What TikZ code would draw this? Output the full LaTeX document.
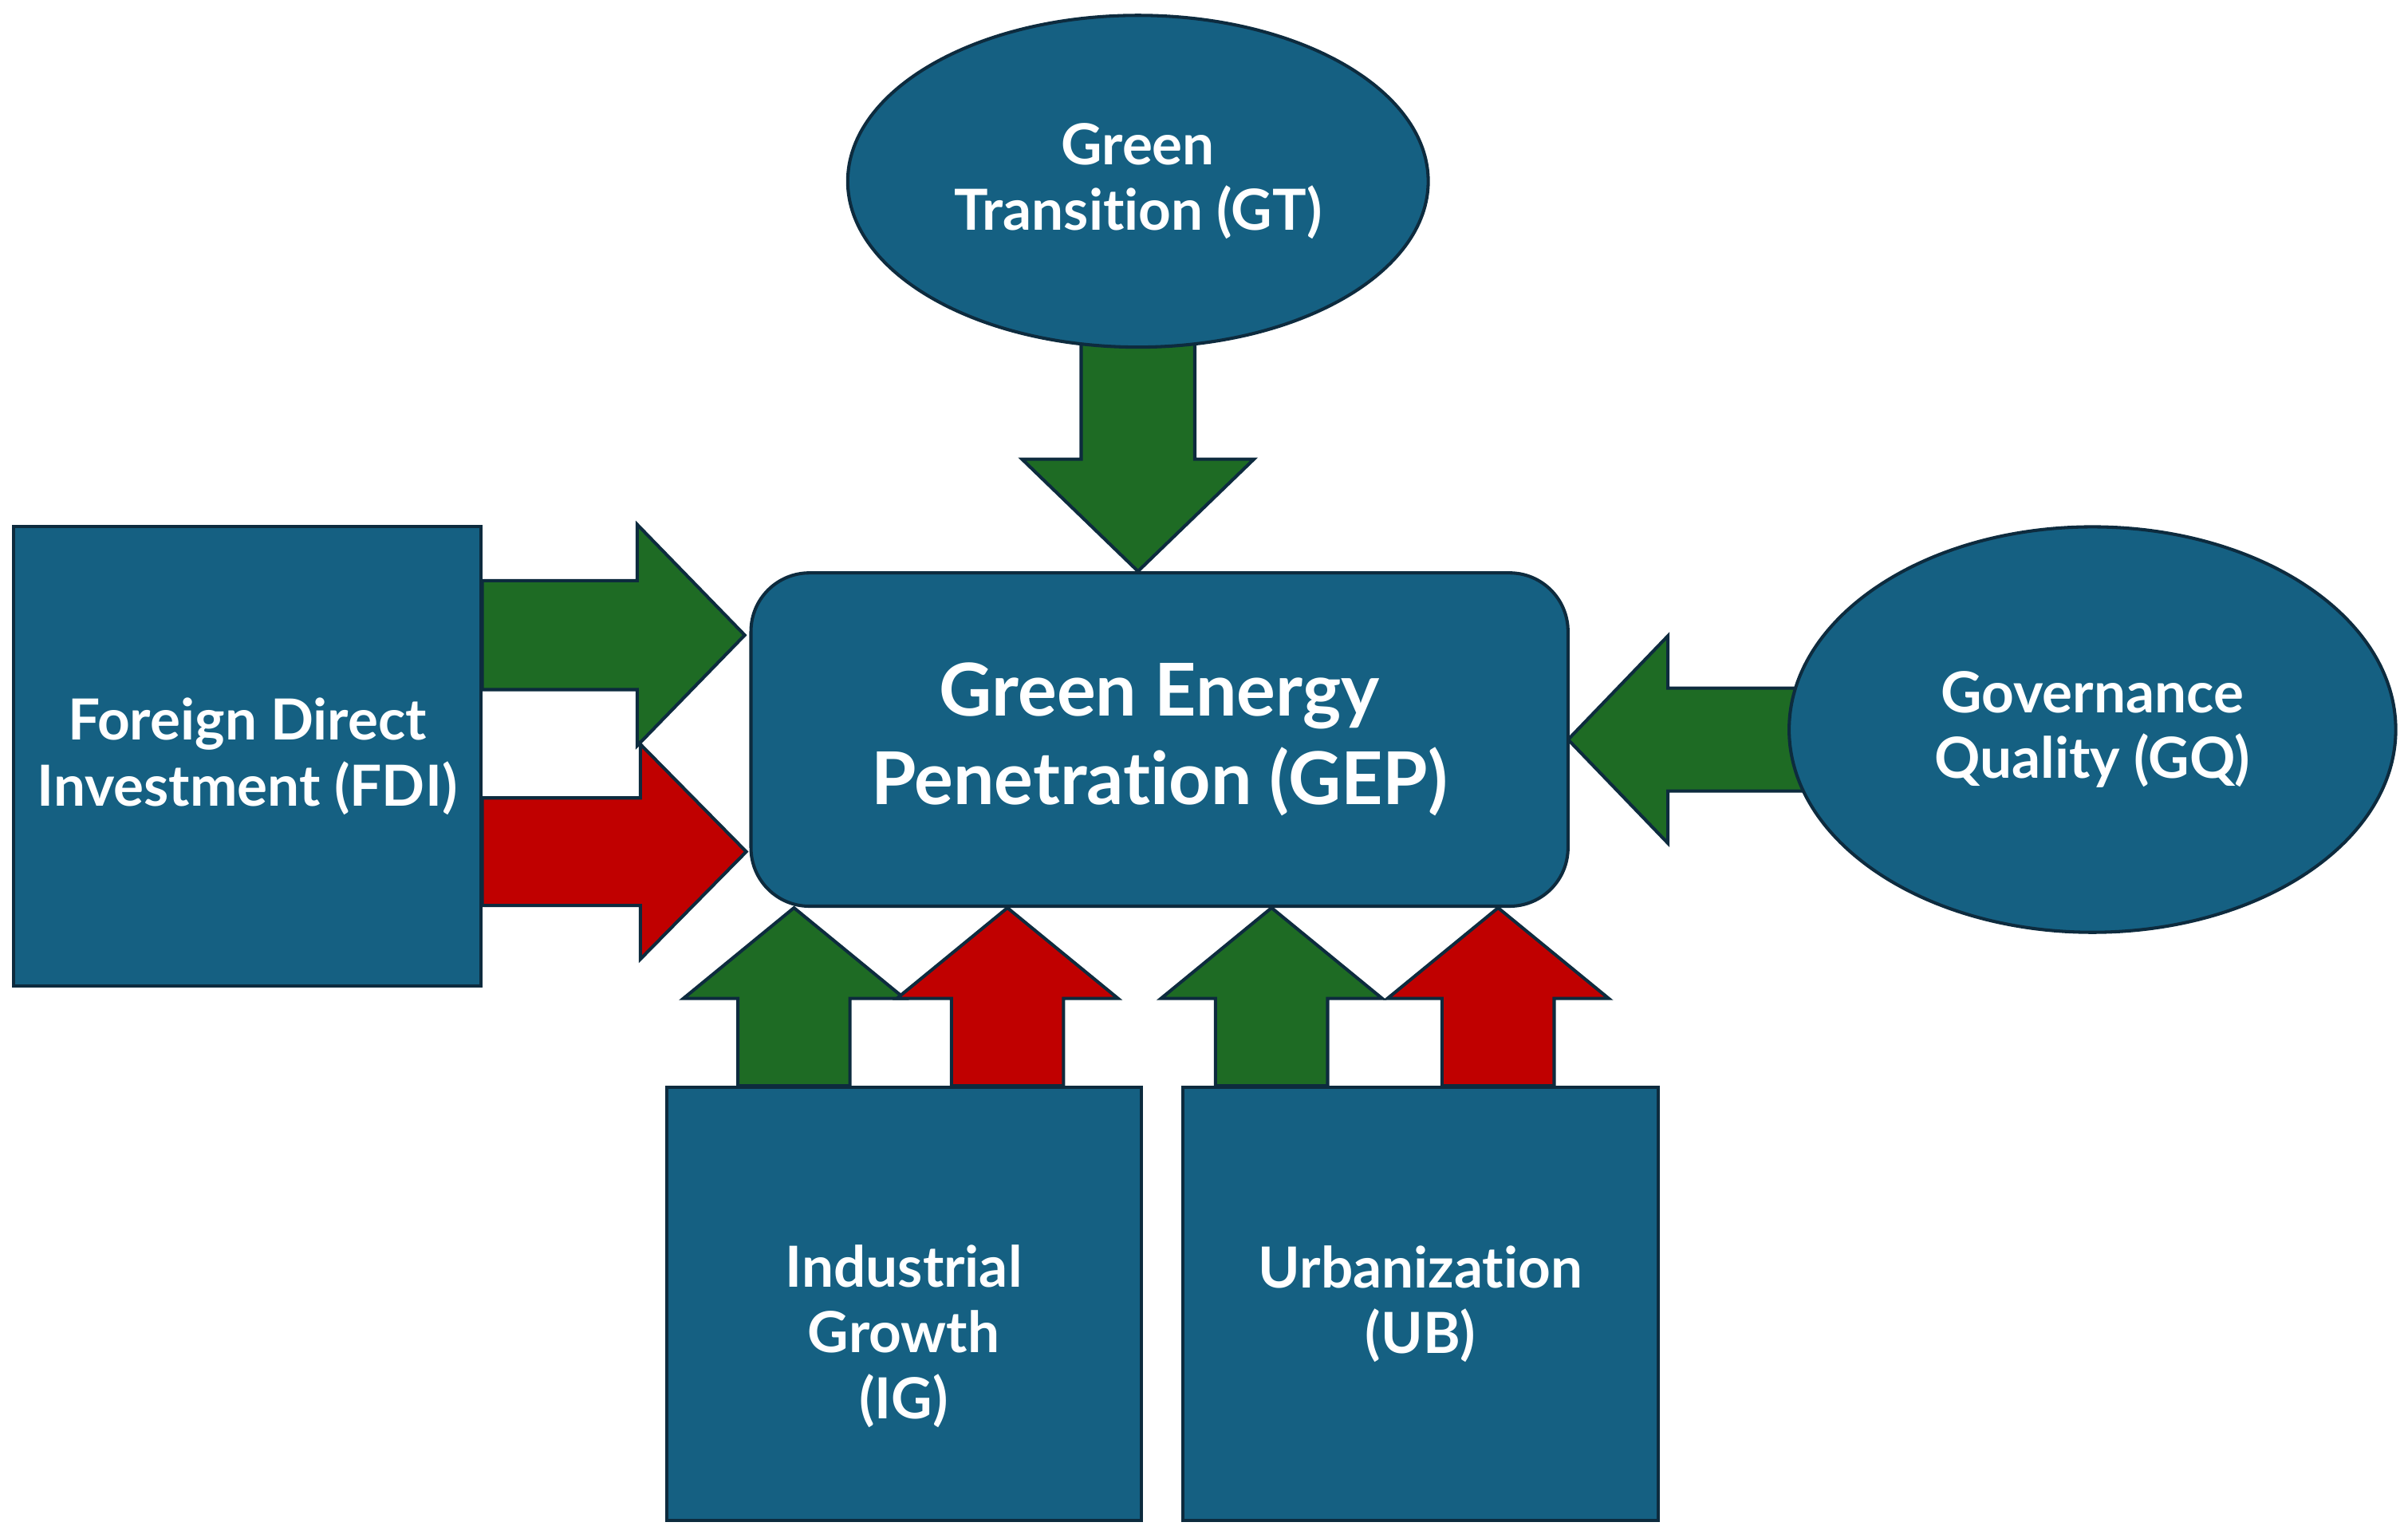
\documentclass[tikz,border=0pt]{standalone}
\usepackage{fontspec}
\setmainfont[RawFeature=-liga]{Lato}
\usetikzlibrary{shapes.geometric,calc,backgrounds}
\definecolor{nodeblue}{HTML}{156082}
\definecolor{edgenavy}{HTML}{0D2B3E}
\definecolor{arrgreen}{HTML}{1E6B24}
\definecolor{arrred}{HTML}{C00000}
% #1 colour, #2 start, #3 end, #4 half shaft, #5 half head, #6 head length
\newcommand\blockarrow[6]{%
  \coordinate (hb) at ($(#3)!#6!(#2)$);
  \filldraw[barrow, fill=#1]
    ($(#2)!#4!90:(#3)$) -- ($(hb)!#4!-90:(#2)$) -- ($(hb)!#5!-90:(#2)$)
    -- (#3) -- ($(hb)!#5!90:(#2)$) -- ($(hb)!#4!90:(#2)$)
    -- ($(#2)!#4!-90:(#3)$) -- cycle;}
\begin{document}
\begin{tikzpicture}[
  shapebox/.style={draw=edgenavy, fill=nodeblue, line width=0.6pt, inner sep=0pt,
    text=white, font=\bfseries\fontsize{10.5}{12.2}\selectfont, align=center},
  rbox/.style={shapebox, rectangle},
  ebox/.style={shapebox, ellipse},
  txt/.style={text=white, font=\bfseries\fontsize{10.5}{12.2}\selectfont, align=center},
  barrow/.style={draw=edgenavy, line width=0.6pt, line join=miter}
]
\useasboundingbox (0,0) rectangle (15.68,-10.01);

\node[rbox, minimum width=3.04cm, minimum height=2.99cm] (fdi) at (1.61,-4.925)
  {Foreign Direct\\Investment (FDI)};
\node[rbox, rounded corners=0.38cm, minimum width=5.32cm, minimum height=2.17cm,
  font=\bfseries\fontsize{13.5}{16.4}\selectfont] (gep) at (7.55,-4.815)
  {Green Energy\\Penetration (GEP)};
\node[ebox, minimum width=3.78cm, minimum height=2.16cm] (gt) at (7.41,-1.18)
  {Green\\Transition (GT)};
\node[ebox, minimum width=3.95cm, minimum height=2.64cm] (gq) at (13.625,-4.75)
  {Governance\\Quality (GQ)};
\node[rbox, minimum width=3.09cm, minimum height=2.82cm] (ig) at (5.885,-8.49) {};
\node[txt] (igt) at ([yshift=-0.21cm]ig.center) {Industrial\\Growth\\(IG)};
\node[rbox, minimum width=3.10cm, minimum height=2.82cm] (ub) at (9.25,-8.49)
  {Urbanization\\(UB)};

\coordinate (gts) at ([yshift=0.3cm]gt.south);
\coordinate (gte) at (gts |- gep.north);
\coordinate (f1s) at ([yshift=0.79cm]fdi.east);
\coordinate (f1e) at ([xshift=-0.03cm]gep.west |- f1s);
\coordinate (f2s) at ([yshift=-0.62cm]fdi.east);
\coordinate (f2e) at ([xshift=-0.02cm]gep.west |- f2s);
\coordinate (gqs) at ([xshift=0.3cm,yshift=-0.065cm]gq.west);
\coordinate (gqe) at ([xshift=-0.01cm]gep.east |- gqs);
\coordinate (i1s) at ([xshift=-0.715cm]ig.north);
\coordinate (i1e) at (i1s |- gep.south);
\coordinate (i2s) at ([xshift=0.675cm]ig.north);
\coordinate (i2e) at (i2s |- gep.south);
\coordinate (u1s) at ([xshift=-0.97cm]ub.north);
\coordinate (u1e) at (u1s |- gep.south);
\coordinate (u2s) at ([xshift=0.505cm]ub.north);
\coordinate (u2e) at (u2s |- gep.south);

\begin{scope}[on background layer]
\blockarrow{arrgreen}{gts}{gte}{0.37cm}{0.755cm}{0.73cm}
\blockarrow{arrgreen}{f1s}{f1e}{0.355cm}{0.72cm}{0.70cm}
\blockarrow{arrred}{f2s}{f2e}{0.35cm}{0.70cm}{0.69cm}
\blockarrow{arrgreen}{gqs}{gqe}{0.335cm}{0.675cm}{0.65cm}
\blockarrow{arrgreen}{i1s}{i1e}{0.365cm}{0.72cm}{0.59cm}
\blockarrow{arrred}{i2s}{i2e}{0.365cm}{0.72cm}{0.59cm}
\blockarrow{arrgreen}{u1s}{u1e}{0.365cm}{0.72cm}{0.59cm}
\blockarrow{arrred}{u2s}{u2e}{0.365cm}{0.72cm}{0.59cm}
\end{scope}
\end{tikzpicture}
\end{document}
